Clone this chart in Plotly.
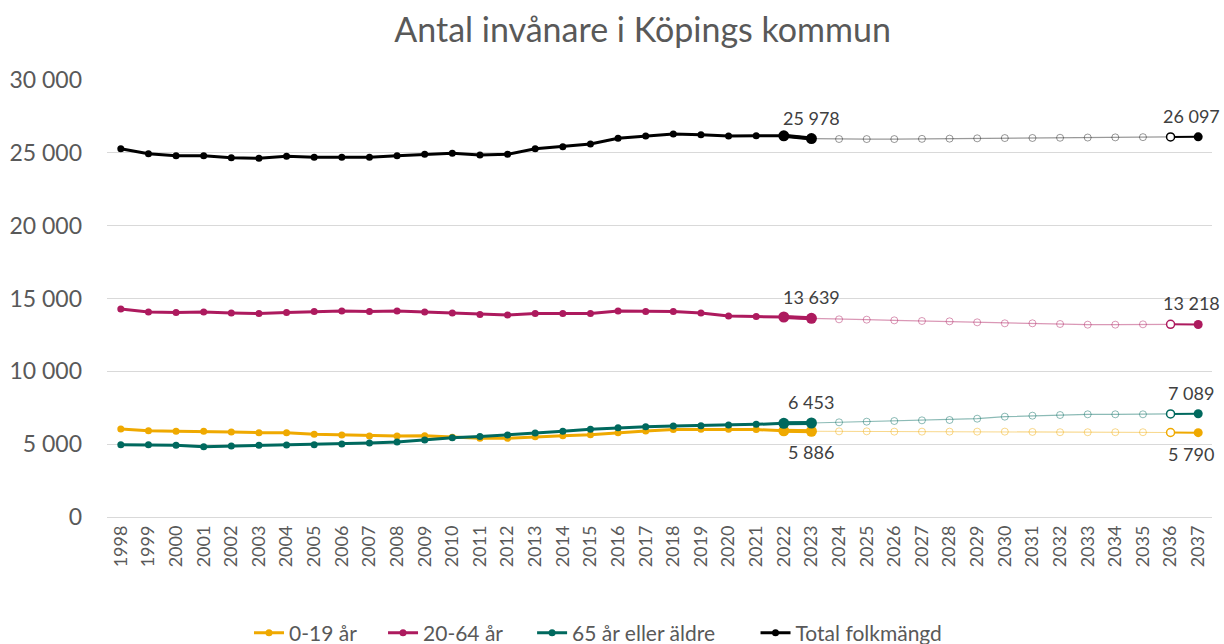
import plotly.graph_objects as go

all_years = [str(y) for y in range(1998, 2038)]
years_hist = [str(y) for y in range(1998, 2024)]
years_proj = [str(y) for y in range(2023, 2038)]

# Historical values 1998-2023
hist_0_19 = [6040, 5920, 5880, 5880, 5830, 5790, 5790, 5680, 5630, 5560, 5560, 5570, 5470,
             5400, 5400, 5510, 5580, 5650, 5790, 5900, 6010, 6020, 6020, 6000, 5920, 5886]
hist_20_64 = [14280, 14070, 14040, 14070, 14000, 13970, 14040, 14110, 14140, 14110, 14140, 14070, 14000,
              13900, 13870, 13970, 13970, 13970, 14140, 14110, 14110, 14000, 13800, 13760, 13730, 13639]
hist_65 = [4960, 4960, 4920, 4830, 4870, 4920, 4940, 4960, 5010, 5080, 5150, 5290, 5440,
           5520, 5630, 5770, 5880, 6020, 6130, 6200, 6250, 6270, 6320, 6360, 6430, 6453]
hist_total = [25280, 24940, 24800, 24800, 24670, 24620, 24760, 24690, 24690, 24690, 24800, 24900, 24970,
              24850, 24900, 25280, 25420, 25600, 26000, 26150, 26290, 26240, 26150, 26170, 26170, 25978]

# Projection values 2023-2037
proj_0_19 = [5886, 5880, 5880, 5860, 5860, 5860, 5860, 5860, 5840, 5820, 5820, 5820, 5820, 5800, 5790]
proj_20_64 = [13639, 13570, 13547, 13500, 13456, 13433, 13364, 13296, 13296, 13250, 13204, 13204, 13227, 13227, 13218]
proj_65 = [6453, 6500, 6545, 6590, 6636, 6660, 6750, 6888, 6957, 7000, 7050, 7050, 7050, 7075, 7089]
proj_total = [25978, 25950, 25945, 25945, 25960, 25975, 25995, 26015, 26020, 26035, 26050, 26060, 26075, 26090, 26097]

series_names = ["0-19 år", "20-64 år", "65 år eller äldre", "Total folkmängd"]
colors = ["#EFA900", "#AD1A5E", "#00695E", "#000000"]
faint = ["rgba(239,169,0,0.45)", "rgba(173,26,94,0.45)", "rgba(0,105,94,0.45)", "rgba(0,0,0,0.4)"]
hist = [hist_0_19, hist_20_64, hist_65, hist_total]
proj = [proj_0_19, proj_20_64, proj_65, proj_total]
label_pos = ["below", "above", "above", "above"]
legend_ids = ["legend", "legend2", "legend3", "legend4"]
legend_x = [0.1285, 0.2498, 0.3847, 0.5869]

def fmt(v):
    return f"{v:,}".replace(",", " ")

fig = go.Figure()
annotations = []
for name, col, fc, h, p, pos, lid in zip(series_names, colors, faint, hist, proj, label_pos, legend_ids):
    fig.add_trace(go.Scatter(
        x=years_proj[:-1], y=p[:-1], mode="lines", showlegend=False, hoverinfo="skip",
        line=dict(color=fc, width=1.2)))
    fig.add_trace(go.Scatter(
        x=years_proj[1:-2], y=p[1:-2], mode="markers", showlegend=False,
        marker=dict(symbol="circle-open", size=7, color=fc, line=dict(width=1, color=fc))))
    fig.add_trace(go.Scatter(
        x=years_proj[-2:], y=p[-2:], mode="lines", showlegend=False, hoverinfo="skip",
        line=dict(color=col, width=2)))
    fig.add_trace(go.Scatter(
        x=years_proj[-2:-1], y=p[-2:-1], mode="markers", showlegend=False,
        marker=dict(symbol="circle", size=8, color="white", line=dict(width=1.5, color=col))))
    fig.add_trace(go.Scatter(
        x=years_proj[-1:], y=p[-1:], mode="markers", showlegend=False,
        marker=dict(symbol="circle", size=9, color=col)))
    fig.add_trace(go.Scatter(
        x=years_hist, y=h, mode="lines+markers", name=name, legend=lid,
        line=dict(color=col, width=3), marker=dict(size=7, color=col)))
    fig.add_trace(go.Scatter(
        x=years_hist[-2:], y=h[-2:], mode="lines+markers", showlegend=False,
        line=dict(color=col, width=4), marker=dict(size=11, color=col)))
    shift = 21 if pos == "above" else -21
    for xv, yv, xs in [(years_hist[-1], h[-1], 0), (years_proj[-1], p[-1], -7)]:
        annotations.append(dict(x=all_years.index(xv), y=yv, xref="x", yref="y",
                                text=fmt(yv), showarrow=False, yshift=shift, xshift=xs,
                                font=dict(size=18, color="#404040", family="Lato")))

legend_style = dict(orientation="h", xanchor="left", y=-0.2654, yanchor="middle",
                    font=dict(size=21, color="#595959"), itemwidth=30, bgcolor="rgba(0,0,0,0)")

fig.update_layout(
    width=1224, height=644,
    margin=dict(l=107, r=12, t=80, b=127, autoexpand=False),
    paper_bgcolor="white", plot_bgcolor="white",
    separators=", ",
    title=dict(text="Antal invånare i Köpings kommun", x=0.525, xanchor="center", y=0.953, yanchor="middle",
               font=dict(size=34, color="#595959", family="Lato")),
    font=dict(family="Lato", color="#595959"),
    xaxis=dict(type="category", range=[-0.5, 39.5], tickangle=-90, showgrid=False,
               tickfont=dict(size=18, color="#595959"), showline=False, ticks="",
               categoryorder="array", categoryarray=all_years, automargin=False,
               ticklabelstandoff=4),
    yaxis=dict(range=[0, 30000], dtick=5000, tickformat=",d", gridcolor="#D9D9D9", gridwidth=1,
               zeroline=True, zerolinecolor="#D9D9D9", zerolinewidth=1, automargin=False,
               tickfont=dict(size=23, color="#595959"), ticks="", ticklabelstandoff=24),
    legend=dict(x=legend_x[0], **legend_style),
    legend2=dict(x=legend_x[1], **legend_style),
    legend3=dict(x=legend_x[2], **legend_style),
    legend4=dict(x=legend_x[3], **legend_style),
    annotations=annotations,
)

fig.write_html("out.html", config={"displayModeBar": False},
               post_script="document.body.style.margin='0';document.body.style.overflow='hidden';")
